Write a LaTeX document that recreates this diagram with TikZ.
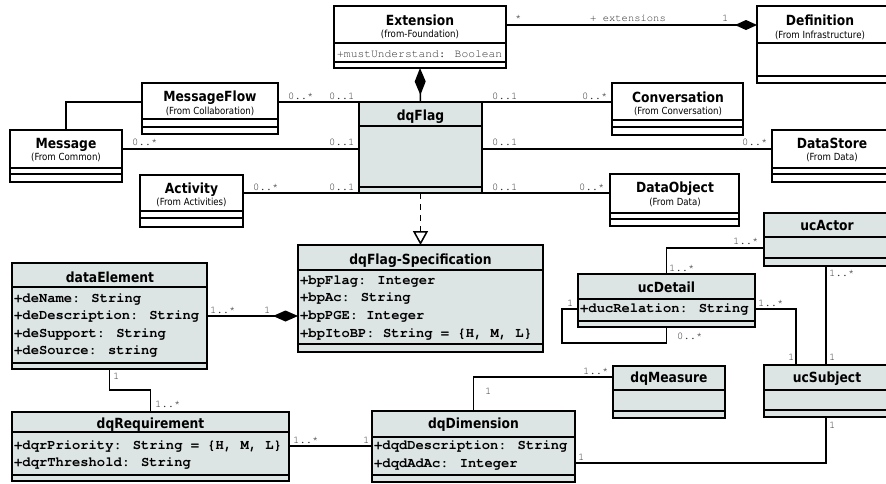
\documentclass[tikz,border=0pt]{standalone}
\usepackage{fontspec}
\usetikzlibrary{arrows.meta,calc}
\newfontfamily\umlsans[FakeStretch=0.88]{DejaVu Sans}
\newfontfamily\umlmono{texgyrecursor}[Extension=.otf, UprightFont=*-regular, BoldFont=*-bold]
\definecolor{umlfill}{HTML}{DDE5E4}
\definecolor{multc}{HTML}{333333}
\tikzset{
  x=1pt, y=-1pt,
  cls/.style={draw, line width=1.6pt, fill=white, inner sep=0pt, outer sep=0pt},
  clsg/.style={cls, fill=umlfill},
  sepline/.style={line width=1.6pt},
  assoc/.style={line width=1.5pt},
  ttl/.style={anchor=base, inner sep=0pt, font=\umlsans\bfseries\fontsize{14}{16}\selectfont},
  subttl/.style={anchor=base, inner sep=0pt, font=\umlsans\fontsize{9.8}{11}\selectfont},
  attr/.style={anchor=base west, inner sep=0pt, font=\umlmono\bfseries\fontsize{13.8}{16}\selectfont},
  mult/.style={anchor=base west, inner sep=0pt, text=multc, font=\umlmono\fontsize{10.5}{12}\selectfont},
}
% class box: name, style, left, top, width, height
\newcommand\umlbox[6]{\node[#2, anchor=north west, minimum width=#5pt, minimum height=#6pt] (#1) at (#3,#4) {};}
% compartment divider across a class box at a given y
\newcommand\umlsep[2]{\draw[sepline] (#1.west |- 0,#2) -- (#1.east |- 0,#2);}
\begin{document}
\begin{tikzpicture}
\clip (0,0) rectangle (886,483);
\fill[white] (0,0) rectangle (886,483);

% ---- class boxes ----
\umlbox{ext}{cls}{334}{6}{172}{62}
\umlsep{ext}{43}\umlsep{ext}{62}
\umlbox{def}{cls}{757}{6}{143}{77}
\umlsep{def}{43}\umlsep{def}{76}
\umlbox{mf}{cls}{142}{83}{136}{51}
\umlsep{mf}{119}\umlsep{mf}{127}
\umlbox{msg}{cls}{10}{130}{112}{52}
\umlsep{msg}{168}\umlsep{msg}{174}
\umlbox{act}{cls}{140}{175}{103}{52}
\umlsep{act}{211}\umlsep{act}{218}
\umlbox{conv}{cls}{612}{83}{131}{52}
\umlsep{conv}{120}\umlsep{conv}{127}
\umlbox{ds}{cls}{772}{130}{128}{52}
\umlsep{ds}{168}\umlsep{ds}{174}
\umlbox{dobj}{cls}{610}{174}{129}{52}
\umlsep{dobj}{213}\umlsep{dobj}{219}
\umlbox{dq}{clsg}{359}{102}{123}{91}
\umlsep{dq}{126}\umlsep{dq}{187}
\umlbox{spec}{clsg}{298}{245}{245}{107}
\umlsep{spec}{270}\umlsep{spec}{344}
\umlbox{de}{clsg}{12}{263}{195}{106}
\umlsep{de}{287}\umlsep{de}{363}
\umlbox{req}{clsg}{12}{412}{277}{69}
\umlsep{req}{432}\umlsep{req}{475}
\umlbox{dim}{clsg}{372}{411}{203}{71}
\umlsep{dim}{437}\umlsep{dim}{475}
\umlbox{meas}{clsg}{613}{366}{112}{52}
\umlsep{meas}{390}\umlsep{meas}{411}
\umlbox{ucs}{clsg}{764}{365}{124}{52}
\umlsep{ucs}{390}\umlsep{ucs}{410}
\umlbox{uca}{clsg}{764}{213}{124}{53}
\umlsep{uca}{237}\umlsep{uca}{258}
\umlbox{det}{clsg}{578}{274}{177}{53}
\umlsep{det}{299}\umlsep{det}{321}

% ---- class names ----
\node[ttl] (ext-t) at (420,25) {Extension};
\node[subttl] (ext-s) at (420,37.5) {(from-Foundation)};
\node[ttl] (def-t) at (820,25) {Definition};
\node[subttl] (def-s) at (820,38.5) {(From Infrastructure)};
\node[ttl] (mf-t) at (210,101) {MessageFlow};
\node[subttl] (mf-s) at (210,114.5) {(From Collaboration)};
\node[ttl] (msg-t) at (66,148) {Message};
\node[subttl] (msg-s) at (66,160.5) {(From Common)};
\node[ttl] (act-t) at (191.5,193) {Activity};
\node[subttl] (act-s) at (191.5,205.5) {(From Activities)};
\node[ttl] (conv-t) at (678,102) {Conversation};
\node[subttl] (conv-s) at (678,114.5) {(From Conversation)};
\node[ttl] (ds-t) at (832,148) {DataStore};
\node[subttl] (ds-s) at (832,160.5) {(From Data)};
\node[ttl] (dobj-t) at (675,192) {DataObject};
\node[subttl] (dobj-s) at (675,205.5) {(From Data)};
\node[ttl] (dq-t) at (420.5,120) {dqFlag};
\node[ttl] (spec-t) at (420.5,264) {dqFlag-Specification};
\node[ttl] (de-t) at (110,282) {dataElement};
\node[ttl] (req-t) at (150.5,428) {dqRequirement};
\node[ttl] (dim-t) at (473.5,428) {dqDimension};
\node[ttl] (meas-t) at (669,382) {dqMeasure};
\node[ttl] (ucs-t) at (827,382) {ucSubject};
\node[ttl] (uca-t) at (827,230) {ucActor};
\node[ttl] (det-t) at (666.5,292) {ucDetail};

% ---- attributes ----
\node[attr, text=multc, font=\umlmono\fontsize{11.3}{13}\selectfont] (ext-a1) at (337,57) {+mustUnderstand: Boolean};
\node[attr] (spec-a1) at (300,284) {+bpFlag: Integer};
\node[attr] (spec-a2) at (300,301) {+bpAc: String};
\node[attr] (spec-a3) at (300,319) {+bpPGE: Integer};
\node[attr] (spec-a4) at (300,337) {+bpItoBP: String = \{H, M, L\}};
\node[attr] (de-a1) at (14,302) {+deName: String};
\node[attr] (de-a2) at (14,319) {+deDescription: String};
\node[attr] (de-a3) at (14,337) {+deSupport: String};
\node[attr] (de-a4) at (14,354) {+deSource: string};
\node[attr] (req-a1) at (14,449) {+dqrPriority: String = \{H, M, L\}};
\node[attr] (req-a2) at (14,466) {+dqrThreshold: String};
\node[attr] (dim-a1) at (374,449) {+dqdDescription: String};
\node[attr] (dim-a2) at (374,467) {+dqdAdAc: Integer};
\node[attr] (det-a1) at (580,312) {+ducRelation: String};

% ---- associations ----
\draw[assoc, -{Diamond[length=22pt,width=10pt]}] (ext.east |- 0,25) -- (def.west |- 0,25);
\draw[assoc, -{Diamond[length=27pt,width=11pt]}] (dq.north) -- (ext.south);
\draw[assoc] (mf.east |- 0,102) -- (dq.west |- 0,102);
\draw[assoc] (msg.north) |- (mf.west |- 0,102);
\draw[assoc] (msg.east |- 0,149) -- (dq.west |- 0,149);
\draw[assoc] (act.east |- 0,193) -- (dq.south west);
\draw[assoc] (dq.east |- 0,102) -- (conv.west |- 0,102);
\draw[assoc] (dq.east |- 0,149) -- (ds.west |- 0,149);
\draw[assoc] (dq.south east) -- (dobj.west |- 0,193);
\draw[assoc, dash pattern=on 6pt off 5pt, -{Triangle[open, length=14pt, width=15pt, fill=white]}] (dq.south) -- (spec.north);
\draw[assoc, -{Diamond[length=25pt,width=11pt]}] (de.east |- 0,316) -- (spec.west |- 0,316);
\draw[assoc] (de.south) -- (de.south |- 0,390) -| (req.north);
\draw[assoc] (req.east |- 0,446) -- (dim.west |- 0,446);
\draw[assoc] (dim.north) |- (meas.west |- 0,377);
\draw[assoc] (det.north) |- (uca.west |- 0,248);
\draw[assoc] (uca.south) -- (ucs.north);
\draw[assoc] (det.west |- 0,309) -| ($(det.west |- 0,343)+(-16,0)$) -| (det.south);
\draw[assoc] (det.east |- 0,309) -| ($(ucs.north west)+(32,0)$);
\draw[assoc] (ucs.south) |- (dim.east |- 0,463);

% ---- multiplicities and role names ----
\node[mult] (m1) at (515,21) {*};
\node[mult] (m2) at (590,21) {+ extensions};
\node[mult] (m3) at (722,21) {1};
\node[mult] (m4) at (288,99) {0..*};
\node[mult] (m5) at (329,99) {0..1};
\node[mult] (m6) at (132,145) {0..*};
\node[mult] (m7) at (329,145) {0..1};
\node[mult] (m8) at (253,190) {0..*};
\node[mult] (m9) at (329,190) {0..1};
\node[mult] (m10) at (492,99) {0..1};
\node[mult] (m11) at (582,99) {0..*};
\node[mult] (m12) at (492,145) {0..1};
\node[mult] (m13) at (742,145) {0..*};
\node[mult] (m14) at (492,190) {0..1};
\node[mult] (m15) at (579,190) {0..*};
\node[mult] (m16) at (210,313) {1..*};
\node[mult] (m17) at (264,313) {1};
\node[mult] (m18) at (113,379) {1};
\node[mult] (m19) at (155,407) {1..*};
\node[mult] (m20) at (293,443) {1..*};
\node[mult] (m21) at (363,443) {1};
\node[mult] (m22) at (485,394) {1};
\node[mult] (m23) at (583,374) {1..*};
\node[mult] (m24) at (733,244) {1..*};
\node[mult] (m25) at (669,271) {1..*};
\node[mult] (m26) at (829,276) {1..*};
\node[mult] (m27) at (829,360) {1};
\node[mult] (m28) at (567,306) {1};
\node[mult] (m29) at (677,339) {0..*};
\node[mult] (m30) at (758,306) {1..*};
\node[mult] (m31) at (788,360) {1};
\node[mult] (m32) at (829,428) {1};
\node[mult] (m33) at (578,460) {1};
\end{tikzpicture}
\end{document}
